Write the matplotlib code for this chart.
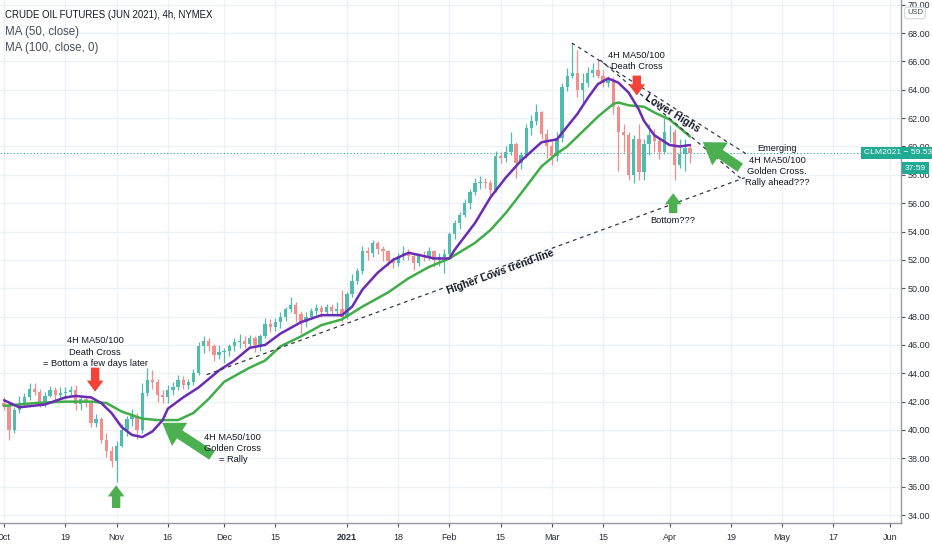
import numpy as np
import pandas as pd
import matplotlib
matplotlib.use('Agg')
import matplotlib.pyplot as plt

# daily bars (Oct 1 2020 -> Apr 7 2021)
opens = [41.9, 41.7, 40.0, 41.4, 41.9, 42.3, 42.9, 42.7, 42.0, 42.4,
         42.8, 42.5, 42.6, 42.7, 42.8, 41.8, 42.2, 42.0, 40.5, 40.8,
         39.3, 38.5, 37.8, 38.9, 40.0, 40.8, 41.0, 40.0, 42.6, 43.5,
         43.4, 42.5, 42.3, 42.8, 43.0, 43.5, 43.2, 43.4, 44.0, 45.9,
         46.3, 45.9, 45.3, 45.5, 45.6, 45.9, 46.2, 46.3, 46.1, 46.5,
         46.0, 46.6, 47.5, 47.3, 47.6, 48.0, 48.5, 48.8, 48.2, 47.6,
         48.0, 48.4, 48.6, 48.3, 48.7, 48.4, 48.5, 48.0, 49.6, 50.5,
         51.2, 52.6, 52.5, 53.2, 52.8, 52.6, 51.9, 51.8, 52.3, 52.5,
         52.3, 51.8, 52.3, 52.2, 52.6, 52.0, 52.2, 52.4, 53.8, 54.6,
         55.2, 56.0, 56.8, 57.4, 57.5, 57.4, 56.9, 59.3, 59.2, 59.6,
         60.2, 58.8, 59.4, 61.3, 61.8, 62.4, 60.9, 60.0, 59.3, 60.6,
         64.2, 65.0, 65.2, 64.0, 64.5, 65.2, 65.4, 65.0, 64.5, 64.7,
         62.8, 61.0, 60.8, 58.0, 60.5, 58.2, 60.2, 60.8, 60.4, 59.6,
         61.0, 61.0, 58.7, 59.5, 59.9]
highs = [42.3, 41.9, 41.6, 42.4, 42.6, 43.3, 43.3, 42.9, 42.7, 43.1,
         43.0, 43.0, 43.0, 43.1, 43.2, 42.4, 42.4, 42.1, 41.1, 40.9,
         39.8, 38.9, 39.2, 40.4, 41.0, 41.5, 41.2, 43.3, 44.4, 44.2,
         43.6, 42.8, 43.2, 43.4, 43.9, 43.8, 43.6, 44.3, 46.2, 46.6,
         46.5, 46.1, 46.0, 45.8, 46.1, 46.5, 46.8, 46.6, 46.7, 46.6,
         46.8, 47.9, 47.8, 47.9, 48.3, 48.7, 49.4, 49.0, 48.4, 48.3,
         48.6, 48.9, 48.8, 48.9, 48.9, 49.0, 49.9, 49.7, 51.0, 51.4,
         53.0, 52.9, 53.4, 53.3, 53.0, 52.7, 52.2, 52.5, 53.0, 52.8,
         52.5, 52.5, 52.6, 52.9, 52.7, 52.5, 52.8, 54.0, 54.8, 55.4,
         56.3, 57.0, 57.8, 57.9, 57.8, 57.6, 59.7, 59.6, 60.0, 61.0,
         60.3, 59.6, 61.6, 62.2, 63.0, 62.5, 61.2, 60.4, 61.0, 64.5,
         65.5, 67.3, 66.8, 65.2, 65.6, 65.9, 66.1, 65.4, 65.0, 64.9,
         62.9, 61.6, 61.0, 60.8, 61.6, 60.5, 61.6, 61.2, 60.6, 62.0,
         61.5, 61.2, 60.5, 60.5, 60.1]
lows = [41.4, 39.3, 39.8, 41.2, 41.6, 42.1, 42.5, 41.6, 41.6, 42.3,
        42.1, 42.2, 42.2, 42.4, 41.4, 41.4, 41.6, 40.2, 40.2, 39.1,
        38.1, 37.4, 36.3, 38.8, 39.6, 40.3, 39.4, 39.8, 42.4, 42.9,
        42.0, 41.9, 41.9, 42.5, 42.8, 42.9, 42.9, 43.2, 43.9, 45.4,
        45.6, 44.9, 45.0, 44.7, 45.2, 45.6, 45.8, 45.8, 45.9, 45.5,
        45.6, 46.5, 46.9, 47.0, 47.2, 47.7, 48.3, 47.6, 46.8, 47.3,
        47.8, 48.1, 48.0, 48.1, 48.1, 48.2, 47.6, 47.8, 49.4, 50.3,
        51.0, 52.0, 52.2, 52.4, 51.9, 51.6, 51.4, 51.6, 52.0, 52.0,
        51.3, 51.6, 51.9, 52.0, 51.5, 51.6, 51.1, 52.3, 53.5, 54.2,
        55.0, 55.6, 56.6, 57.0, 57.1, 56.6, 56.8, 58.8, 58.9, 59.4,
        57.8, 58.4, 59.2, 60.8, 61.5, 60.5, 59.2, 58.7, 59.0, 60.3,
        63.9, 64.8, 63.5, 63.1, 64.2, 64.9, 64.8, 64.2, 64.2, 62.3,
        58.3, 59.6, 57.6, 57.4, 57.6, 57.6, 59.4, 59.6, 59.1, 59.5,
        60.3, 57.6, 58.5, 58.3, 58.8]
closes = [41.7, 40.0, 41.4, 41.9, 42.3, 42.9, 42.7, 42.0, 42.4, 42.8,
          42.5, 42.6, 42.7, 42.8, 41.8, 42.2, 42.0, 40.5, 40.8, 39.3,
          38.5, 37.8, 38.9, 40.0, 40.8, 41.0, 40.0, 42.6, 43.5, 43.4,
          42.5, 42.3, 42.8, 43.0, 43.5, 43.2, 43.4, 44.0, 45.9, 46.3,
          45.9, 45.3, 45.5, 45.6, 45.9, 46.2, 46.3, 46.1, 46.5, 46.0,
          46.6, 47.5, 47.3, 47.6, 48.0, 48.5, 48.8, 48.2, 47.6, 48.0,
          48.4, 48.6, 48.3, 48.7, 48.4, 48.5, 48.0, 49.6, 50.5, 51.2,
          52.6, 52.5, 53.2, 52.8, 52.6, 51.9, 51.8, 52.3, 52.5, 52.3,
          51.8, 52.3, 52.2, 52.6, 52.0, 52.2, 52.4, 53.8, 54.6, 55.2,
          56.0, 56.8, 57.4, 57.5, 57.4, 56.9, 59.3, 59.2, 59.6, 60.2,
          58.8, 59.4, 61.3, 61.8, 62.4, 60.9, 60.0, 59.3, 60.6, 64.2,
          65.0, 65.2, 64.0, 64.5, 65.2, 65.4, 65.0, 64.5, 64.7, 62.8,
          61.0, 60.8, 58.0, 60.5, 58.2, 60.2, 60.8, 60.4, 59.6, 61.0,
          61.0, 58.7, 59.5, 59.9, 59.53]

# moving averages (trading-day index, price)
ma50_days = [0, 3, 8, 12, 14, 17, 19, 21, 23, 25, 27, 29, 31, 32, 35, 38, 42,
             45, 48, 51, 54, 58, 62, 66, 68, 70, 73, 76, 79, 81, 84, 87, 88,
             92, 95, 98, 101, 105, 108, 110, 112, 114, 116, 118, 120, 122,
             124, 125, 127, 130, 132, 134]
ma50_vals = [42.1, 41.6, 41.8, 42.3, 42.4, 42.3, 41.9, 41.2, 40.2, 39.65,
             39.5, 39.9, 40.7, 41.5, 42.3, 43.0, 44.2, 44.9, 45.8, 46.0,
             46.8, 47.6, 48.1, 48.1, 48.7, 49.9, 51.1, 52.0, 52.5, 52.35,
             52.1, 52.1, 52.7, 54.6, 56.4, 57.8, 59.0, 60.3, 60.5, 61.4,
             62.3, 63.4, 64.4, 64.8, 64.5, 63.8, 62.6, 61.8, 60.8, 60.1,
             60.0, 60.1]
ma100_days = [0, 6, 12, 17, 20, 23, 27, 30, 34, 37, 40, 43, 48, 51, 54, 58,
              62, 66, 70, 75, 79, 83, 87, 92, 95, 98, 101, 105, 108, 110,
              112, 116, 119, 120, 122, 125, 127, 130, 132, 134]
ma100_vals = [41.7, 41.9, 42.0, 42.0, 41.9, 41.3, 40.8, 40.7, 40.7, 41.2,
              42.2, 43.4, 44.4, 44.9, 45.9, 46.6, 47.4, 47.8, 48.7, 49.7,
              50.7, 51.5, 52.1, 53.2, 54.1, 55.3, 56.7, 58.6, 59.5, 60.0,
              60.7, 62.1, 63.0, 63.1, 62.9, 62.8, 62.4, 61.9, 61.3, 60.7]

last_price = 59.53

# time axis: trading days, labelled like TradingView
sessions = pd.bdate_range('2020-10-01', '2021-06-04')
tick_dates = ['2020-10-01', '2020-10-19', '2020-11-02', '2020-11-16',
              '2020-12-01', '2020-12-15', '2021-01-04', '2021-01-18',
              '2021-02-01', '2021-02-15', '2021-03-01', '2021-03-15',
              '2021-04-01', '2021-04-19', '2021-05-03', '2021-05-17',
              '2021-06-01']
tick_labels = ['Oct', '19', 'Nov', '16', 'Dec', '15', '2021', '18', 'Feb',
               '15', 'Mar', '15', 'Apr', '19', 'May', '17', 'Jun']

# hand drawings on the chart (trading-day index, price)
higher_lows_line = [(39.6, 43.9), (144.7, 57.8)]
lower_highs_outer = [(110.9, 67.3), (145.3, 59.4)]
lower_highs_inner = [(116.4, 66.1), (143.9, 57.75)]

font = ['Liberation Sans', 'DejaVu Sans']
txt_col = '#131722'
up_col = '#4fbcad'
down_col = '#f28e8b'
arrow_green = '#4caf50'
arrow_red = '#f44336'

plt.rcParams['font.family'] = font

fig = plt.figure(figsize=(9.32, 5.5), dpi=100)
ax = fig.add_axes([0, 27 / 550, 901 / 932, 523 / 550])

x = np.arange(len(closes))
o = np.array(opens)
c = np.array(closes)
colors = np.where(c >= o, up_col, down_col)
ax.vlines(x, lows, highs, colors=colors, lw=0.9, zorder=3)
ax.bar(x, np.maximum(np.abs(c - o), 0.05), bottom=np.minimum(o, c), width=0.65,
       color=colors, lw=0, zorder=3)

ax.plot(ma100_days, ma100_vals, color='#3fae49', lw=1.8, zorder=4,
        solid_capstyle='round', solid_joinstyle='round')
ax.plot(ma50_days, ma50_vals, color='#6a2bb5', lw=1.8, zorder=5,
        solid_capstyle='round', solid_joinstyle='round')

ax.axhline(last_price, color='#26a69a', lw=0.8, ls=(0, (1, 2)), zorder=2)

# trend lines
for line in (higher_lows_line, lower_highs_outer, lower_highs_inner):
    (x0, y0), (x1, y1) = line
    ax.plot([x0, x1], [y0, y1], color='#363a45', lw=0.9, ls=(0, (3, 3)), zorder=6)


def block_arrow(tail, tip, color, tail_w, head_w, head_l):
    ax.annotate('', xy=tip, xytext=tail, zorder=7,
                arrowprops=dict(arrowstyle='simple,head_length=%g,head_width=%g,tail_width=%g'
                                % (head_l, head_w, tail_w),
                                mutation_scale=1, color=color, lw=0,
                                shrinkA=0, shrinkB=0))


block_arrow((17.8, 44.4), (17.8, 42.7), arrow_red, 6, 12, 8)
block_arrow((21.9, 34.5), (21.9, 36.1), arrow_green, 6, 12, 8)
block_arrow((40.6, 38.2), (30.9, 40.5), arrow_green, 7, 20, 15)
block_arrow((123.6, 65.0), (123.6, 63.6), arrow_red, 6, 12, 8)
block_arrow((130.7, 55.3), (130.7, 56.7), arrow_green, 6, 12, 8)
block_arrow((143.8, 58.5), (136.5, 60.3), arrow_green, 7, 20, 15)

kw = dict(ha='center', va='center', color=txt_col, fontsize=6.7,
          linespacing=1.3, zorder=8)
ax.text(17.8, 45.5, '4H MA50/100\nDeath Cross\n= Bottom a few days later', **kw)
ax.text(44.7, 38.7, '4H MA50/100\nGolden Cross\n= Rally', **kw)
ax.text(123.6, 66.0, '4H MA50/100\nDeath Cross', **kw)
ax.text(130.7, 54.8, 'Bottom???', **kw)
ax.text(151.0, 58.65, 'Emerging\n4H MA50/100\nGolden Cross.\nRally ahead???', **kw)
ax.text(130.5, 62.35, 'Lower Highs', ha='center', va='center', color=txt_col,
        fontsize=7.5, fontweight='bold', rotation=-32, zorder=8)
ax.text(96.9, 51.15, 'Higher Lows trend-line', ha='center', va='center',
        color=txt_col, fontsize=7.5, fontweight='bold', rotation=20, zorder=8)

# axes styling
ax.set_xlim(-0.78, 175.2)
ax.set_ylim(33.44, 70.33)
tick_pos = [sessions.get_loc(pd.Timestamp(d)) for d in tick_dates]
ax.set_xticks(tick_pos)
ax.set_xticklabels(tick_labels)
for lab in ax.get_xticklabels():
    if lab.get_text() == '2021':
        lab.set_fontweight('bold')
ax.set_yticks(np.arange(34, 71, 2))
ax.set_yticklabels(['%.2f' % v for v in np.arange(34, 71, 2)])
ax.yaxis.tick_right()
ax.tick_params(axis='both', labelsize=6.5, colors='#50535e', length=3,
               width=0.8, labelcolor='#2a2e39')
ax.tick_params(axis='y', pad=2)
ax.tick_params(axis='x', pad=4)
ax.grid(True, color='#eef1f6', lw=1)
ax.set_axisbelow(True)
for side in ('top', 'left'):
    ax.spines[side].set_visible(False)
for side in ('right', 'bottom'):
    ax.spines[side].set_color('#9598a1')
    ax.spines[side].set_linewidth(1)

# legend texts
fig.text(5 / 932, 1 - 15 / 550, 'CRUDE OIL FUTURES (JUN 2021), 4h, NYMEX',
         fontsize=6.9, color=txt_col, va='center')
fig.text(5 / 932, 1 - 32 / 550, 'MA (50, close)', fontsize=8.3,
         color='#4a4e59', va='center')
fig.text(5 / 932, 1 - 48 / 550, 'MA (100, close, 0)', fontsize=8.3,
         color='#4a4e59', va='center')

# price labels on the scale
fig.text(864 / 932, 1 - 153 / 550, 'CLM2021 \u2212 59.53', fontsize=6.1,
         color='white', va='center', ha='left',
         bbox=dict(boxstyle='square,pad=0.35', fc='#22ab94', ec='none'))
fig.text(926 / 932, 1 - 168 / 550, '37:59', fontsize=6.1, color='white',
         va='center', ha='right',
         bbox=dict(boxstyle='square,pad=0.35', fc='#22ab94', ec='none'))
fig.text(915 / 932, 1 - 13 / 550, 'USD', fontsize=5.5, color='#50535e',
         va='center', ha='center',
         bbox=dict(boxstyle='round,pad=0.3', fc='white', ec='#d1d4dc', lw=0.8))

fig.savefig('out.png', dpi=100, facecolor='white')
